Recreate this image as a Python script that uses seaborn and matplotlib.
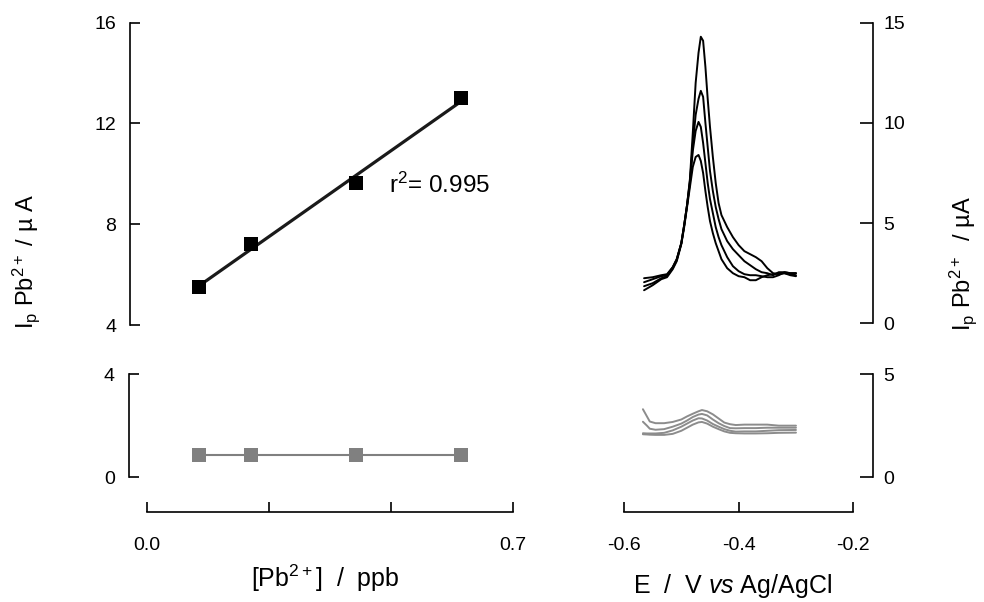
import numpy as np
import pandas as pd
import matplotlib
matplotlib.use("Agg")
import matplotlib.pyplot as plt
import seaborn as sns

# ---------------- data ----------------
conc_ppb = [0.1, 0.2, 0.4, 0.6]
ip_pb = [5.52, 7.22, 9.63, 13.02]
ip_blank = [0.86, 0.86, 0.86, 0.86]

E_top = [-0.565, -0.55, -0.535, -0.525, -0.515, -0.508, -0.50, -0.495, -0.49, -0.485,
         -0.48, -0.475, -0.47, -0.466, -0.462, -0.458, -0.454, -0.45, -0.445, -0.44,
         -0.435, -0.43, -0.42, -0.41, -0.40, -0.39, -0.38, -0.37, -0.36, -0.35,
         -0.34, -0.33, -0.32, -0.31, -0.30]
I_top_1 = [2.05, 2.2, 2.35, 2.4, 2.8, 3.2, 4.0, 4.9, 5.9, 7.2,
           9.5, 12.0, 13.5, 14.3, 14.1, 12.8, 11.2, 9.8, 8.3, 7.0,
           6.0, 5.4, 4.8, 4.3, 3.9, 3.6, 3.45, 3.3, 3.1, 2.75,
           2.5, 2.45, 2.5, 2.4, 2.35]
I_top_2 = [2.25, 2.3, 2.4, 2.45, 2.8, 3.2, 4.0, 4.9, 5.9, 7.1,
           8.9, 10.4, 11.2, 11.6, 11.3, 10.0, 8.8, 7.6, 6.6, 5.8,
           5.2, 4.7, 4.1, 3.7, 3.4, 3.1, 2.9, 2.7, 2.55, 2.5,
           2.4, 2.55, 2.55, 2.5, 2.5]
I_top_3 = [1.85, 2.0, 2.25, 2.35, 2.75, 3.15, 4.0, 4.9, 5.9, 7.0,
           8.6, 9.6, 10.05, 9.8, 9.0, 8.0, 7.0, 6.2, 5.5, 4.8,
           4.3, 3.9, 3.3, 2.85, 2.6, 2.45, 2.4, 2.4, 2.35, 2.3,
           2.3, 2.4, 2.55, 2.5, 2.5]
I_top_4 = [1.65, 1.9, 2.2, 2.3, 2.7, 3.1, 3.95, 4.8, 5.8, 6.8,
           7.8, 8.3, 8.4, 8.1, 7.5, 6.6, 5.8, 5.1, 4.5, 4.0,
           3.6, 3.2, 2.75, 2.5, 2.35, 2.3, 2.15, 2.15, 2.3, 2.4,
           2.45, 2.5, 2.5, 2.45, 2.4]

E_bot = [-0.567, -0.56, -0.555, -0.545, -0.53, -0.515, -0.50, -0.49, -0.48, -0.47,
         -0.464, -0.455, -0.445, -0.435, -0.425, -0.415, -0.405, -0.39, -0.37, -0.35,
         -0.33, -0.30]
I_bot_1 = [3.3, 2.95, 2.7, 2.62, 2.62, 2.68, 2.8, 2.95, 3.08, 3.2,
           3.26, 3.2, 3.05, 2.85, 2.65, 2.57, 2.53, 2.55, 2.55, 2.55,
           2.5, 2.5]
I_bot_2 = [2.69, 2.5, 2.35, 2.3, 2.33, 2.45, 2.6, 2.75, 2.92, 3.04,
           3.07, 3.0, 2.8, 2.62, 2.48, 2.38, 2.37, 2.38, 2.38, 2.4,
           2.4, 2.4]
I_bot_3 = [2.13, 2.12, 2.12, 2.12, 2.15, 2.27, 2.45, 2.6, 2.75, 2.86,
           2.85, 2.75, 2.58, 2.45, 2.33, 2.25, 2.21, 2.22, 2.22, 2.25,
           2.28, 2.29]
I_bot_4 = [2.08, 2.07, 2.06, 2.05, 2.05, 2.1, 2.25, 2.4, 2.55, 2.66,
           2.68, 2.6, 2.45, 2.33, 2.22, 2.15, 2.13, 2.12, 2.12, 2.13,
           2.15, 2.16]

x_ticks_left = [0.0, 0.7 / 3, 1.4 / 3, 0.7]
x_ticklabels_left = ["0.0", "", "", "0.7"]
x_ticks_right = [-0.6, -0.4, -0.2]
x_ticklabels_right = ["-0.6", "-0.4", "-0.2"]
y_ticks_tl = [4, 8, 12, 16]
y_ticks_bl = [0, 4]
y_ticks_tr = [0, 5, 10, 15]
y_ticks_br = [0, 5]

# ---------------- style ----------------
sns.set_theme(style="ticks")
plt.rcParams["font.family"] = ["Liberation Sans", "DejaVu Sans"]
plt.rcParams["mathtext.fontset"] = "custom"
plt.rcParams["mathtext.rm"] = "Liberation Sans"
plt.rcParams["mathtext.it"] = "Liberation Sans:italic"
plt.rcParams["axes.unicode_minus"] = False
plt.rcParams["text.color"] = "black"
plt.rcParams["axes.labelcolor"] = "black"
plt.rcParams["xtick.color"] = "black"
plt.rcParams["ytick.color"] = "black"

W, H = 984, 602
fig = plt.figure(figsize=(W / 100, H / 100), dpi=100)
fig.patch.set_facecolor("white")

def rect(x0, y_top, x1, y_bot):
    return [x0 / W, 1 - y_bot / H, (x1 - x0) / W, (y_bot - y_top) / H]

ax_tl = fig.add_axes(rect(146.7, 22.7, 513.3, 325.0))
ax_bl = fig.add_axes(rect(146.7, 374.3, 513.3, 477.0))
ax_tr = fig.add_axes(rect(624.0, 22.7, 853.3, 323.3))
ax_br = fig.add_axes(rect(624.0, 374.3, 853.3, 477.0))

for ax in (ax_tl, ax_bl, ax_tr, ax_br):
    ax.set_facecolor("white")
    for s in ax.spines.values():
        s.set_visible(False)
        s.set_linewidth(1.2)
        s.set_color("black")
    ax.grid(False)

# ---------- top-left: calibration ----------
df_cal = pd.DataFrame({"conc": conc_ppb, "ip": ip_pb})
sns.regplot(data=df_cal, x="conc", y="ip", ax=ax_tl, ci=None, truncate=True,
            marker="s", color="black",
            scatter_kws={"s": 100, "color": "black", "alpha": 1, "zorder": 3,
                         "clip_on": False, "linewidths": 0},
            line_kws={"color": "#1a1a1a", "lw": 2.3, "zorder": 2})
ax_tl.set_xlim(0, 0.7)
ax_tl.set_ylim(4, 16)
ax_tl.spines["left"].set_visible(True)
ax_tl.spines["left"].set_position(("outward", 12))
ax_tl.set_yticks(y_ticks_tl)
ax_tl.set_xticks([])
ax_tl.set_xlabel("")
ax_tl.set_ylabel("")
ax_tl.text(0.462, 9.56, "r$^2$= 0.995", fontsize=17.5, ha="left", va="center",
           color="black")

# ---------- bottom-left: blank ----------
df_bl = pd.DataFrame({"conc": conc_ppb, "ip": ip_blank})
sns.lineplot(data=df_bl, x="conc", y="ip", ax=ax_bl, color="#808080", lw=1.5,
             marker="s", markersize=9.6, markeredgewidth=0, markerfacecolor="#808080",
             clip_on=False)
ax_bl.set_xlim(0, 0.7)
ax_bl.set_ylim(0, 4)
ax_bl.spines["left"].set_visible(True)
ax_bl.spines["left"].set_position(("outward", 13))
ax_bl.spines["bottom"].set_visible(True)
ax_bl.spines["bottom"].set_position(("outward", 25))
ax_bl.spines["bottom"].set_bounds(0, 0.7)
ax_bl.set_yticks(y_ticks_bl)
ax_bl.set_xticks(x_ticks_left)
ax_bl.set_xticklabels(x_ticklabels_left)
ax_bl.set_xlabel("")
ax_bl.set_ylabel("")

# ---------- top-right: voltammograms ----------
for Iv in (I_top_1, I_top_2, I_top_3, I_top_4):
    d = pd.DataFrame({"E": E_top, "I": Iv})
    sns.lineplot(data=d, x="E", y="I", ax=ax_tr, color="black", lw=1.4, sort=False)
ax_tr.set_xlim(-0.6, -0.2)
ax_tr.set_ylim(0, 15)
ax_tr.spines["right"].set_visible(True)
ax_tr.spines["right"].set_position(("outward", 14.4))
ax_tr.yaxis.set_ticks_position("right")
ax_tr.set_yticks(y_ticks_tr)
ax_tr.set_xticks([])
ax_tr.set_xlabel("")
ax_tr.set_ylabel("")

# ---------- bottom-right: blank voltammograms ----------
for Iv in (I_bot_1, I_bot_2, I_bot_3, I_bot_4):
    d = pd.DataFrame({"E": E_bot, "I": Iv})
    sns.lineplot(data=d, x="E", y="I", ax=ax_br, color="#8c8c8c", lw=1.4, sort=False)
ax_br.set_xlim(-0.6, -0.2)
ax_br.set_ylim(0, 5)
ax_br.spines["right"].set_visible(True)
ax_br.spines["right"].set_position(("outward", 14.4))
ax_br.spines["bottom"].set_visible(True)
ax_br.spines["bottom"].set_position(("outward", 25))
ax_br.spines["bottom"].set_bounds(-0.6, -0.2)
ax_br.yaxis.set_ticks_position("right")
ax_br.set_yticks(y_ticks_br)
ax_br.set_xticks(x_ticks_right)
ax_br.set_xticklabels(x_ticklabels_right)
ax_br.set_xlabel("")
ax_br.set_ylabel("")

# tick styling
for ax in (ax_tl, ax_bl):
    ax.tick_params(axis="y", direction="in", length=7.2, width=1.2, pad=10,
                   labelsize=14, colors="black", left=True, right=False)
for ax in (ax_tr, ax_br):
    ax.tick_params(axis="y", direction="in", length=9.4, width=1.2, pad=7,
                   labelsize=14, colors="black", left=False, right=True,
                   labelleft=False, labelright=True)
for ax in (ax_bl, ax_br):
    ax.tick_params(axis="x", direction="in", length=7.5, width=1.2, pad=18,
                   labelsize=14, colors="black", bottom=True, top=False)
for ax in (ax_tl, ax_tr):
    ax.tick_params(axis="x", bottom=False, top=False, labelbottom=False)

# axis titles
fig.text(26 / W, 1 - 262 / H, r"I$_\mathrm{p}$ Pb$^{2+}$ / µ A", rotation=90,
         ha="center", va="center", fontsize=17)
fig.text(963 / W, 1 - 264 / H, r"I$_\mathrm{p}$ Pb$^{2+}$  / µA", rotation=90,
         ha="center", va="center", fontsize=17)
fig.text(325 / W, 1 - 578 / H, r"[Pb$^{2+}$]  /  ppb", ha="center", va="center",
         fontsize=18)
fig.text(733 / W, 1 - 586 / H, r"E  /  V $\mathit{vs}$ Ag/AgCl", ha="center",
         va="center", fontsize=18)

fig.savefig("out.png", dpi=100, facecolor="white")
